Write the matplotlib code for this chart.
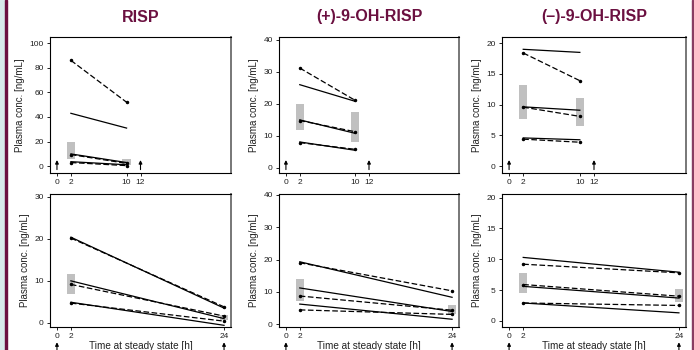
import matplotlib.pyplot as plt
import matplotlib.patches as mpatches
from matplotlib.transforms import blended_transform_factory

plt.rcParams['font.family'] = ['Liberation Sans', 'DejaVu Sans']

titles = ["RISP", "(+)-9-OH-RISP", "(\u2013)-9-OH-RISP"]
ylabel = "Plasma conc. [ng/mL]"
xlabel = "Time at steady state [h]"

# top row: samples at 2 h and 10 h (12 h dosing)
t_top = [2, 10]
top_solid = [
    [[43, 31], [10, 3.0], [3.7, 1.2]],
    [[26, 20.8], [15, 10.8], [8.1, 5.5]],
    [[19.0, 18.5], [9.65, 9.1], [4.6, 4.3]],
]
top_dashed = [
    [[86, 52], [9.5, 2.3], [3.0, 0.5]],
    [[31.2, 21.1], [14.8, 11.3], [7.9, 5.8]],
    [[18.4, 13.9], [9.6, 8.1], [4.4, 3.9]],
]
top_ranges = [
    [(5.7, 19.6), (1.1, 5.7)],
    [(11.7, 20.0), (8.0, 17.6)],
    [(7.7, 13.2), (6.5, 11.1)],
]
top_ylim = [(-5.5, 105), (-1.6, 40.9), (-1.1, 21)]
top_yticks = [[0, 20, 40, 60, 80, 100], [0, 10, 20, 30, 40], [0, 5, 10, 15, 20]]
top_xticks = [0, 2, 10, 12]
top_arrows = [0, 12]

# bottom row: samples at 2 h and 24 h (24 h dosing)
t_bot = [2, 24]
bot_solid = [
    [[20.4, 3.5], [10.0, 1.0], [4.9, -0.6]],
    [[19.3, 8.3], [11.2, 3.9], [6.2, 1.5]],
    [[10.3, 7.9], [5.6, 3.7], [2.9, 1.3]],
]
bot_dashed = [
    [[20.2, 3.8], [9.15, 1.6], [4.7, 0.4]],
    [[19.0, 10.3], [8.7, 4.3], [4.4, 3.0]],
    [[9.2, 7.8], [5.9, 4.0], [2.9, 2.5]],
]
bot_ranges = [
    [(6.9, 11.6), (0.55, 1.8)],
    [(7.2, 13.9), (3.2, 6.0)],
    [(4.6, 7.8), (3.1, 5.1)],
]
bot_ylim = [(-1.0, 30.7), (-0.9, 40.3), (-1.0, 20.6)]
bot_yticks = [[0, 10, 20, 30], [0, 10, 20, 30, 40], [0, 5, 10, 15, 20]]
bot_xticks = [0, 2, 24]
bot_arrows = [0, 24]

maroon = "#6b1040"
box_grey = "#c0c0c0"

fig = plt.figure(figsize=(6.94, 3.5), dpi=100)

# page decoration at the edges
fig.patches.append(mpatches.Rectangle((0, 0), 4 / 694, 1, transform=fig.transFigure,
                                      color="#d7e9ea", zorder=0))
fig.patches.append(mpatches.Rectangle((4.5 / 694, 0), 2.5 / 694, 1, transform=fig.transFigure,
                                      color=maroon, zorder=0))
fig.patches.append(mpatches.Rectangle((691.5 / 694, 0), 1.5 / 694, 1, transform=fig.transFigure,
                                      color="#8a3d62", zorder=0))

cols = [(50, 231), (279, 459), (502, 686)]
rows = [(37, 173), (194, 327)]


def make_ax(c, r):
    x0, x1 = cols[c]
    y0, y1 = rows[r]
    return fig.add_axes([x0 / 694, 1 - y1 / 350, (x1 - x0) / 694, (y1 - y0) / 350])


def draw_panel(ax, t, solid, dashed, ranges, ylim, yticks, xticks, arrows, bottom_row):
    ax.set_xlim(-1, 25)
    ax.set_ylim(*ylim)
    for (lo, hi), tt in zip(ranges, t):
        ax.add_patch(mpatches.Rectangle((tt - 0.6, lo), 1.2, hi - lo,
                                        color=box_grey, lw=0, zorder=1))
    for s in solid:
        ax.plot(t, s, color="black", lw=0.9, zorder=3)
    for s in dashed:
        ax.plot(t, s, color="black", lw=0.9, ls=(0, (4.5, 2)), marker="o",
                ms=1.5, zorder=3)
    ax.set_xticks(xticks)
    ax.set_yticks(yticks)
    ax.tick_params(labelsize=6, length=2.5, width=0.7, pad=2, colors="#222222")
    ax.set_ylabel(ylabel, fontsize=7, labelpad=3, color="#222222")
    for side in ["left", "bottom", "top"]:
        ax.spines[side].set_linewidth(0.8)
    ax.spines["right"].set_color("#777777")
    ax.spines["right"].set_linewidth(1.4)
    trans = blended_transform_factory(ax.transData, ax.transAxes)
    for a in arrows:
        if bottom_row:
            ax.annotate("", xy=(a, -0.115), xytext=(a, -0.18), xycoords=trans,
                        textcoords=trans, annotation_clip=False,
                        arrowprops=dict(arrowstyle="-|>", color="black", lw=0.8,
                                        mutation_scale=5, shrinkA=0, shrinkB=0))
        else:
            ax.annotate("", xy=(a, 0.095), xytext=(a, 0.025), xycoords=trans,
                        textcoords=trans,
                        arrowprops=dict(arrowstyle="-|>", color="black", lw=0.8,
                                        mutation_scale=5, shrinkA=0, shrinkB=0))
    if bottom_row:
        ax.set_xlabel(xlabel, fontsize=7.2, labelpad=0.5, color="#222222")


for i in range(3):
    ax = make_ax(i, 0)
    draw_panel(ax, t_top, top_solid[i], top_dashed[i], top_ranges[i], top_ylim[i],
               top_yticks[i], top_xticks, top_arrows, False)
    xc = (cols[i][0] + cols[i][1]) / 2 / 694
    fig.text(xc, 1 - 17 / 350, titles[i], ha="center", va="center", fontsize=11.5,
             fontweight="bold", color=maroon)

    ax = make_ax(i, 1)
    draw_panel(ax, t_bot, bot_solid[i], bot_dashed[i], bot_ranges[i], bot_ylim[i],
               bot_yticks[i], bot_xticks, bot_arrows, True)

plt.savefig("out.png", dpi=100)
plt.close()
